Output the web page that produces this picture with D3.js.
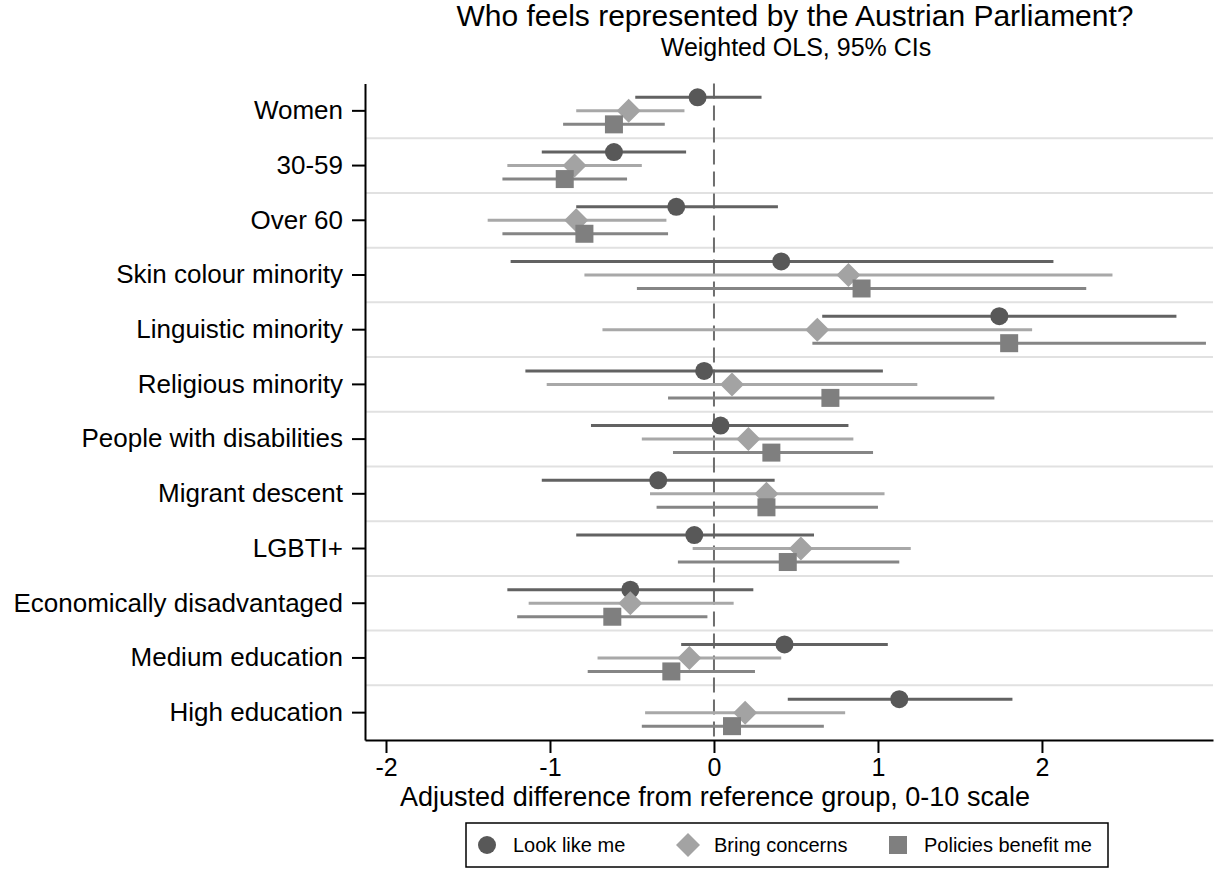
<!DOCTYPE html>
<html>
<head>
<meta charset="utf-8">
<script src="https://cdn.jsdelivr.net/npm/d3@7"></script>
<style>
  body { margin: 0; background: #fff; }
  text { font-family: "Liberation Sans", Arial, sans-serif; fill: #000; }
</style>
</head>
<body>
<svg id="chart" width="1215" height="879"></svg>
<script>
// groups (top to bottom)
var groups = ["Women", "30-59", "Over 60", "Skin colour minority", "Linguistic minority",
  "Religious minority", "People with disabilities", "Migrant descent", "LGBTI+",
  "Economically disadvantaged", "Medium education", "High education"];

// Look like me
var lookEst = [-0.10, -0.61, -0.23, 0.41, 1.74, -0.06, 0.04, -0.34, -0.12, -0.51, 0.43, 1.13];
var lookLo  = [-0.48, -1.05, -0.84, -1.24, 0.66, -1.15, -0.75, -1.05, -0.84, -1.26, -0.20, 0.45];
var lookHi  = [0.29, -0.17, 0.39, 2.07, 2.82, 1.03, 0.82, 0.37, 0.61, 0.24, 1.06, 1.82];

// Bring concerns
var bringEst = [-0.52, -0.85, -0.84, 0.82, 0.63, 0.11, 0.21, 0.32, 0.53, -0.51, -0.15, 0.19];
var bringLo  = [-0.84, -1.26, -1.38, -0.79, -0.68, -1.02, -0.44, -0.39, -0.13, -1.13, -0.71, -0.42];
var bringHi  = [-0.18, -0.44, -0.29, 2.43, 1.94, 1.24, 0.85, 1.04, 1.20, 0.12, 0.41, 0.80];

// Policies benefit me
var polEst = [-0.61, -0.91, -0.79, 0.90, 1.80, 0.71, 0.35, 0.32, 0.45, -0.62, -0.26, 0.11];
var polLo  = [-0.92, -1.29, -1.29, -0.47, 0.60, -0.28, -0.25, -0.35, -0.22, -1.20, -0.77, -0.44];
var polHi  = [-0.30, -0.53, -0.28, 2.27, 3.00, 1.71, 0.97, 1.00, 1.13, -0.04, 0.25, 0.67];

var xTicks = [-2, -1, 0, 1, 2];
var seriesNames = ["Look like me", "Bring concerns", "Policies benefit me"];

// 系列ごとのスタイル
var series = [
  {name: seriesNames[0], est: lookEst, lo: lookLo, hi: lookHi, shape: "circle", fill: "#585858", line: "#626262", dy: -13.5},
  {name: seriesNames[1], est: bringEst, lo: bringLo, hi: bringHi, shape: "diamond", fill: "#a3a3a3", line: "#a8a8a8", dy: 0},
  {name: seriesNames[2], est: polEst, lo: polLo, hi: polHi, shape: "square", fill: "#7f7f7f", line: "#858585", dy: 13.5}
];

var svg = d3.select("#chart");

var plotLeft = 365, plotRight = 1213, plotTop = 83.5, plotBottom = 740;

var x = d3.scaleLinear()
  .domain([-2.128, 3.043])
  .range([plotLeft, plotRight]);

var y = d3.scaleBand()
  .domain(groups)
  .range([plotTop, plotBottom])
  .padding(0);

function yc(g) { return y(g) + y.bandwidth() / 2; }

// title
svg.append("text")
  .attr("x", 795).attr("y", 26)
  .attr("text-anchor", "middle")
  .style("font-size", "30px")
  .text("Who feels represented by the Austrian Parliament?");

svg.append("text")
  .attr("x", 796).attr("y", 56)
  .attr("text-anchor", "middle")
  .style("font-size", "25px")
  .text("Weighted OLS, 95% CIs");

// gridlines between rows
svg.append("g")
  .selectAll("line")
  .data(groups.slice(1))
  .enter().append("line")
  .attr("x1", plotLeft).attr("x2", plotRight)
  .attr("y1", function(d) { return y(d); })
  .attr("y2", function(d) { return y(d); })
  .attr("stroke", "#e1e1e1")
  .attr("stroke-width", 2);

// zero line
svg.append("line")
  .attr("x1", x(0)).attr("x2", x(0))
  .attr("y1", plotTop).attr("y2", plotBottom)
  .attr("stroke", "#6e6e6e")
  .attr("stroke-width", 2)
  .attr("stroke-dasharray", "15,7");

// CI lines and markers
var symDiamond = d3.symbol().type(d3.symbolSquare).size(17 * 17);

series.forEach(function(s) {
  var g = svg.append("g");
  g.selectAll("line")
    .data(groups)
    .enter().append("line")
    .attr("x1", function(d, i) { return x(s.lo[i]); })
    .attr("x2", function(d, i) { return x(s.hi[i]); })
    .attr("y1", function(d) { return yc(d) + s.dy; })
    .attr("y2", function(d) { return yc(d) + s.dy; })
    .attr("stroke", s.line)
    .attr("stroke-width", 3);
});

series.forEach(function(s) {
  var g = svg.append("g");
  var pts = g.selectAll(".pt").data(groups).enter();
  if (s.shape === "circle") {
    pts.append("circle")
      .attr("cx", function(d, i) { return x(s.est[i]); })
      .attr("cy", function(d) { return yc(d) + s.dy; })
      .attr("r", 9)
      .attr("fill", s.fill);
  } else if (s.shape === "diamond") {
    pts.append("path")
      .attr("d", symDiamond)
      .attr("transform", function(d, i) { return "translate(" + x(s.est[i]) + "," + (yc(d) + s.dy) + ") rotate(45)"; })
      .attr("fill", s.fill);
  } else {
    pts.append("rect")
      .attr("x", function(d, i) { return x(s.est[i]) - 9; })
      .attr("y", function(d) { return yc(d) + s.dy - 9; })
      .attr("width", 18).attr("height", 18)
      .attr("fill", s.fill);
  }
});

// x axis
var xAxis = svg.append("g")
  .attr("transform", "translate(0," + plotBottom + ")")
  .call(d3.axisBottom(x).tickValues(xTicks).tickSize(13).tickSizeOuter(0).tickPadding(5));
xAxis.select(".domain").attr("stroke", "#000").attr("stroke-width", 2);
xAxis.selectAll(".tick line").attr("stroke", "#000").attr("stroke-width", 2);
xAxis.selectAll(".tick text")
  .style("font-size", "25px")
  .style("font-family", "Liberation Sans, Arial, sans-serif")
  .text(function(d) { return d < 0 ? "-" + Math.abs(d) : d; });

svg.append("text")
  .attr("x", 715).attr("y", 806)
  .attr("text-anchor", "middle")
  .style("font-size", "27px")
  .text("Adjusted difference from reference group, 0-10 scale");

// y axis
var yAxis = svg.append("g")
  .attr("transform", "translate(" + plotLeft + ",0)")
  .call(d3.axisLeft(y).tickSize(13).tickSizeOuter(0).tickPadding(9));
yAxis.select(".domain").attr("stroke", "#000").attr("stroke-width", 2);
yAxis.selectAll(".tick line").attr("stroke", "#000").attr("stroke-width", 2);
yAxis.selectAll(".tick text")
  .style("font-size", "26px")
  .style("font-family", "Liberation Sans, Arial, sans-serif");

// legend
var legend = svg.append("g");
legend.append("rect")
  .attr("x", 466).attr("y", 823)
  .attr("width", 642).attr("height", 44)
  .attr("fill", "#fff")
  .attr("stroke", "#000")
  .attr("stroke-width", 1.5);

var legX = [487, 688, 898];
var legY = 845;
series.forEach(function(s, i) {
  if (s.shape === "circle") {
    legend.append("circle").attr("cx", legX[i]).attr("cy", legY).attr("r", 9).attr("fill", s.fill);
  } else if (s.shape === "diamond") {
    legend.append("path").attr("d", symDiamond)
      .attr("transform", "translate(" + legX[i] + "," + legY + ") rotate(45)")
      .attr("fill", s.fill);
  } else {
    legend.append("rect").attr("x", legX[i] - 9).attr("y", legY - 9)
      .attr("width", 18).attr("height", 18).attr("fill", s.fill);
  }
  legend.append("text")
    .attr("x", legX[i] + 26).attr("y", legY + 7)
    .style("font-size", "20px")
    .text(s.name);
});
</script>
</body>
</html>
